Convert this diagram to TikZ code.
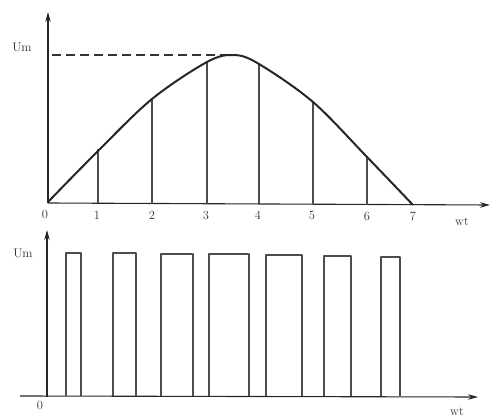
\documentclass[tikz,border=0pt]{standalone}
\usetikzlibrary{arrows.meta}
\begin{document}
\begin{tikzpicture}[x=1pt,y=-1pt,
  axis/.style={line width=1.1pt, draw=black!85, -{Stealth[length=10pt,width=5.5pt]}},
  curve/.style={line width=2pt, draw=black!85},
  ordinate/.style={line width=1.2pt, draw=black!70},
  pulse/.style={line width=1.9pt, draw=black!70, line join=round},
  lbl/.style={font=\fontsize{12.5}{14}\selectfont, text=black!80, inner sep=0pt},
  dashline/.style={line width=1.1pt, draw=black!80, dash pattern=on 9pt off 5pt}]
\useasboundingbox (0,0) rectangle (491,420);
% ---------- top graph ----------
\coordinate (O1) at (48,203);
\coordinate (Y1) at (48,12);
\coordinate (X1) at (490,205);
\draw[axis] (O1) -- (Y1);
\draw[axis] (O1) -- (X1);
\coordinate (pk) at (234,55);
\coordinate (dl) at (52,55);
\draw[dashline] (dl) -- (pk);
\draw[ordinate] (98,203) -- (98,149);
\draw[ordinate] (152,204) -- (152,98);
\draw[ordinate] (207,204) -- (207,61);
\draw[ordinate] (259,204) -- (259,64);
\draw[ordinate] (313,204) -- (313,101);
\draw[ordinate] (367,205) -- (367,156);
\draw[curve] plot[smooth, tension=0.55] coordinates {(48,202) (98,151) (152,99) (207,62) (234,55) (259,64) (313,102) (367,157) (413,205)};
\node[lbl] (um1) at (22,47) {Um};
\node[lbl] (t0) at (45,214) {0};
\node[lbl] (t1) at (97,215) {1};
\node[lbl] (t2) at (152,215) {2};
\node[lbl] (t3) at (206,215) {3};
\node[lbl] (t4) at (258,215) {4};
\node[lbl] (t5) at (312,215) {5};
\node[lbl] (t6) at (367,216) {6};
\node[lbl] (t7) at (413,216) {7};
\node[lbl] (wt1) at (462,222) {wt};
% ---------- bottom graph ----------
\coordinate (O2) at (47,397);
\coordinate (Y2) at (47,230);
\coordinate (X2a) at (20,396);
\coordinate (X2) at (478,397);
\draw[axis] (O2) -- (Y2);
\draw[axis] (X2a) -- (X2);
\foreach \a/\b/\t in {66/81/253, 113/136/253, 161/193/254, 209/249/254, 266/302/255, 324/351/256, 381/400/257}{
  \draw[pulse] (\a,396) -- (\a,\t) -- (\b,\t) -- (\b,396);
}
\node[lbl] (um2) at (23,253) {Um};
\node[lbl] (o2) at (40,405) {0};
\node[lbl] (wt2) at (457,412) {wt};
\end{tikzpicture}
\end{document}
